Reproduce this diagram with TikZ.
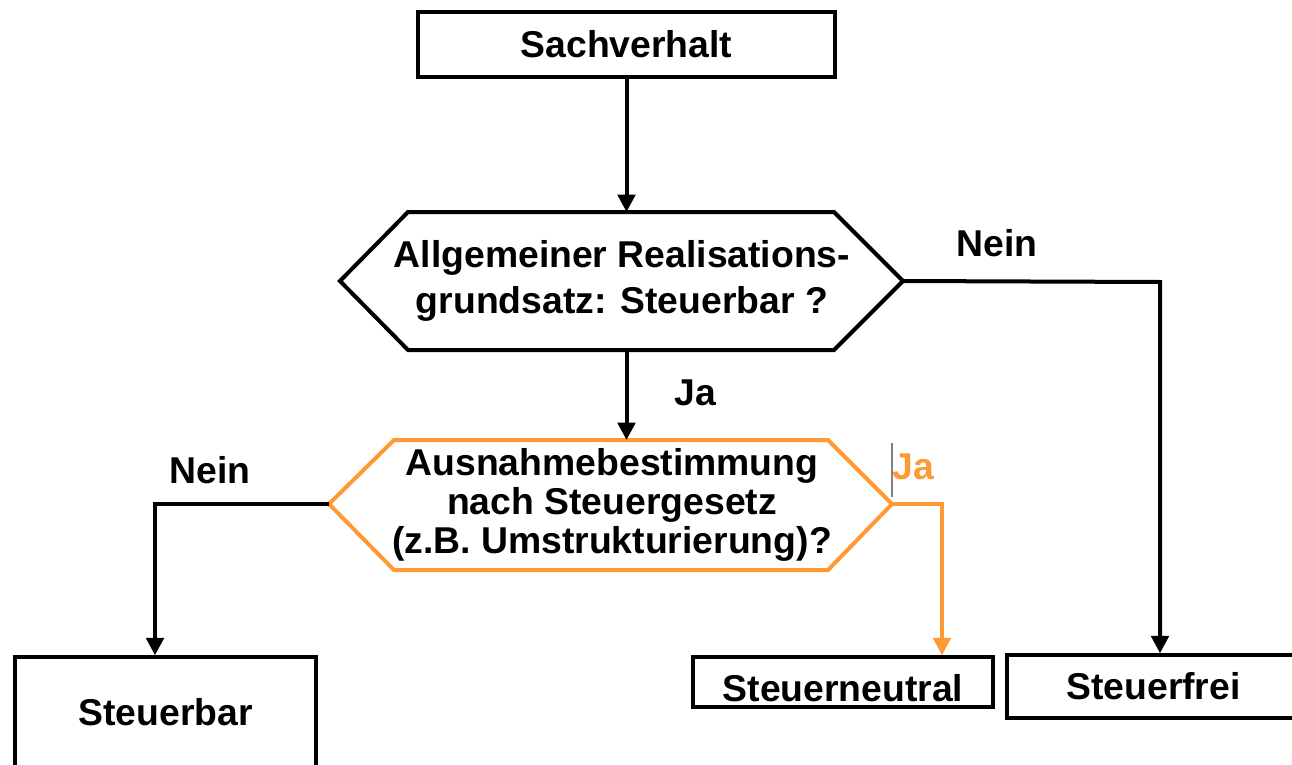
\documentclass[tikz,border=0pt]{standalone}
\usepackage{fontspec}
\setmainfont{Liberation Sans}
\usetikzlibrary{arrows.meta}
\definecolor{orng}{RGB}{255,153,51}
\begin{document}
\begin{tikzpicture}[x=0.75pt,y=-0.75pt,
  box/.style={draw,line width=2.6pt,inner sep=0pt,font=\fontsize{28}{34}\selectfont\bfseries},
  lbl/.style={font=\fontsize{28}{34}\selectfont\bfseries,inner sep=0pt},
  hexline/.style={line width=3pt,line join=miter},
  conn/.style={line width=3pt,-{Triangle[length=13pt,width=13pt]}}]
\useasboundingbox (0,0) rectangle (1292,764);
\clip (0,0) rectangle (1292,764);

% boxes
\node[box,minimum width=312.75pt,minimum height=48.75pt] (sach) at (626.5,44.5) {Sachverhalt};
\node[box,minimum width=225.75pt,minimum height=83.25pt] (sb) at (165.5,712.5) {Steuerbar};
\node[box,minimum width=225pt,minimum height=37.5pt,text height=29pt,text depth=0pt] (sn) at (843,682) {Steuerneutral};
\node[box,minimum width=219.75pt,minimum height=47.25pt] (sf) at (1153.5,686.5) {Steuerfrei};

% hexagon 1
\coordinate (h1w) at (340,281);
\coordinate (h1e) at (903,281);
\coordinate (h1n) at (626.5,212);
\coordinate (h1s) at (626.5,350);
\draw[hexline] (h1w) -- (408,212) -- (834,212) -- (h1e) -- (834,350) -- (408,350) -- cycle;
\node[lbl,align=center] (h1) at (622,281) {Allgemeiner Realisations-\\grundsatz: Steuerbar ?};

% hexagon 2
\coordinate (h2w) at (329,504);
\coordinate (h2e) at (892,504);
\coordinate (h2n) at (626.5,440);
\draw[hexline,orng] (h2w) -- (394,440) -- (828,440) -- (h2e) -- (828,570) -- (394,570) -- cycle;
\node[lbl,align=center,font=\fontsize{28}{29}\selectfont\bfseries] (h2) at (612,505) {Ausnahmebestimmung\\nach Steuergesetz\\(z.B. Umstrukturierung)?};

% bend points
\coordinate (c1) at (1160,282);
\coordinate (c2) at (155,504);
\coordinate (c3) at (942,504);

% connectors
\draw[conn] (sach.south) -- (h1n);
\draw[conn] (h1s) -- (h2n);
\draw[conn,line join=miter] (h1e) -- (c1) -- (c1 |- sf.north);
\draw[conn,line join=miter] (h2w) -- (c2) -- (c2 |- sb.north);
\draw[conn,orng,line join=miter] (h2e) -- (c3) -- (c3 |- sn.north);

% labels
\node[lbl] (nein1) at (997,243) {Nein};
\node[lbl] (ja1) at (695,393) {Ja};
\node[lbl] (nein2) at (210,470) {Nein};
\node[lbl,text=orng] (ja2) at (913,467) {Ja};
\draw[gray,line width=0.8pt] (892,443) -- (892,497);
\end{tikzpicture}
\end{document}
